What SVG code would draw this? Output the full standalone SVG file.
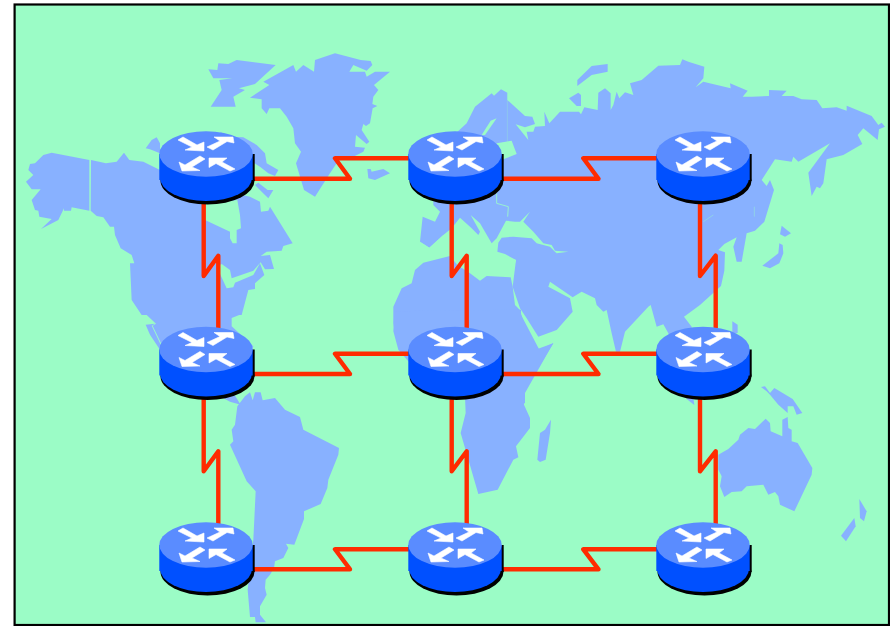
<svg xmlns="http://www.w3.org/2000/svg" xmlns:xlink="http://www.w3.org/1999/xlink" width="890" height="626" viewBox="0 0 890 626">
<style>
.land{fill:#88B1FF}
.sea{fill:#9BFCC6}
.seam{fill:none;stroke:#9BFCC6;stroke-width:2.5}
.link{fill:none;stroke:#FF2B00;stroke-width:4.4;stroke-linejoin:round;stroke-linecap:round}
.shadow{fill:#000}
.side{fill:#0050FF}
.top{fill:#5A8CFF}
.arrow{fill:#fff;stroke:#fff;stroke-width:.6}
</style>
<defs>
<g id="router">
<ellipse class="shadow" cx="1.5" cy="26.8" rx="47" ry="23.7"/>
<rect class="shadow" x="-40" y="0" width="88.7" height="27"/>
<ellipse class="side" cx="0" cy="24" rx="46" ry="23"/>
<rect class="side" x="-46.7" y="0" width="93.4" height="26"/>
<ellipse class="top" cx="0" cy="0" rx="46.7" ry="22.8"/>
<polygon class="arrow" points="-28,-14 -23,-17 -9,-9 -2,-12 -2,-3 -21,-4 -14,-7"/>
<polygon class="arrow" points="1,-7 14,-13 8,-17 27,-17 28,-11 21,-12.5 7,-4"/>
<polygon class="arrow" points="-6,2 -1,5 -14,13 -6,16.5 -24,17 -27,8 -21,11"/>
<polygon class="arrow" points="3,4 21,4 16,8 29,15 24,17 10,9.5 3,13.5"/>
</g>
</defs>
<rect x="14.6" y="4.5" width="874.4" height="620.5" class="sea" stroke="#000" stroke-width="2.2"/>
<g id="map">
<g transform="scale(0.33333)">
<polygon class="land" points="750,293 808,255 790,245 880,195 888,215 910,195 942,215 945,180 1005,160 1082,180 1112,183 1117,195 1100,212 1060,195 1048,215 1095,215 1100,230 1125,215 1170,215 1122,255 1135,270 1120,290 1117,312 1132,318 1118,325 1110,370 1098,378 1090,372 1085,390 1108,425 1100,432 1068,405 1065,440 1095,443 1090,455 1060,470 1020,475 990,520 945,590 912,570 888,490 903,455 885,430 880,385 860,350 840,325 808,325 800,342 785,325 785,298"/>
<polygon class="land" points="625,208 652,210 655,190 685,192 710,180 827,195 765,252 717,265 735,270 700,290 707,320 632,320 665,270 658,240 697,235 640,235"/>
<polygon class="land" points="1102,507 1112,507 1115,515 1150,507 1170,520 1125,540 1105,535"/>
<polygon class="land" points="78,545 100,525 85,510 90,492 105,490 130,465 155,458 268,480 268,632 215,622 213,632 192,632 192,625 175,660 123,687 155,657 118,650 115,632 105,630 95,600 122,568 95,568"/>
<polygon class="land" points="273,480 318,490 350,485 372,458 388,480 430,485 480,510 620,560 750,590 780,605 783,635 805,632 810,620 878,730 850,738 845,752 800,755 782,768 810,765 822,807 795,808 782,787 760,812 695,835 690,810 665,792 650,800 680,865 700,862 705,848 760,825 780,790 793,825 765,850 765,867 745,870 725,945 425,945 395,900 390,790 403,790 395,765 362,745 345,705 342,680 330,680 310,652 290,648 272,632"/>
<polygon class="sea" points="615,612 615,660 690,695 690,715 698,730 710,730 710,690 723,685 720,645 712,600"/>
<polygon class="land" points="437,445 455,420 470,412 480,430 480,460 450,448"/>
<polygon class="land" points="660,395 690,410 730,412 770,435 795,460 800,490 835,510 825,528 805,520 780,500 700,450"/>
<polygon class="land" points="765,555 785,575 805,595 820,570 803,570 775,548"/>
</g>
<g transform="translate(0,313) scale(0.33333)">
<polygon class="land" points="425,-8 725,-8 725,3 695,15 695,40 760,100 700,240 722,275 690,266 660,250 620,240 490,105 458,38 468,32"/>
<polygon class="land" points="437,35 465,32 455,38 487,105 480,110 450,65"/>
<polygon class="land" points="712,280 735,250 750,238 758,262 765,238 782,238 788,262 825,255 855,290 900,312 910,350 1017,405 1015,425 985,500 982,525 962,573 912,595 912,618 883,695 858,692 865,705 850,735 825,745 822,765 810,785 797,800 795,825 800,845 780,880 780,905 798,928 767,928 765,912 750,912 743,830 760,680 767,535 740,505 690,395 700,385 695,350 705,335"/>
</g>
<g transform="translate(445,0) scale(0.33333)">
<polygon class="land" points="0,430 65,370 90,320 140,280 147,287 168,268 187,278 187,300 240,348 262,350 270,372 240,382 212,373 250,420 245,395 265,395 270,380 300,378 298,335 313,370 345,335 402,335 408,343 418,322 458,330 460,278 480,265 497,280 497,330 505,315 515,275 523,295 540,277 565,285 555,250 590,240 640,197 705,195 712,178 730,185 778,200 775,235 752,262 775,245 857,265 855,250 908,272 893,290 920,290 972,288 972,270 1025,272 1010,288 1045,288 1070,298 1115,300 1132,325 1175,322 1205,332 1205,317 1280,348 1300,375 1310,368 1320,380 1302,388 1298,420 1255,385 1238,405 1252,432 1195,465 1145,478 1135,550 1125,565 1115,560 1100,588 1090,518 1155,430 1060,485 1045,470 1040,485 990,478 950,540 965,558 975,540 987,570 958,665 930,692 905,700 890,785 875,785 865,740 875,712 838,732 820,750 840,757 838,812 828,858 765,915 717,950 740,980 745,1195 748,1215 725,1197 670,1000 655,973 635,980 617,915 610,920 540,995 525,1055 513,1055 500,1000 485,930 475,935 455,915 450,895 410,875 383,892 315,845 310,860 375,895 383,935 335,990 280,1010 245,955 225,925 203,860 213,780 -5,705 -47,743 -75,725 -67,650 -30,665 -15,635 -35,615 -35,500"/>
<polygon class="land" points="397,240 440,198 488,192 488,215 440,225 397,258"/>
<polygon class="land" points="372,295 400,278 408,285 408,318 395,318"/>
<polygon class="land" points="1010,677 1038,700 1020,710 1005,703"/>
<polygon class="land" points="1003,730 1013,735 1015,760 1003,790 975,805 952,797 1000,760"/>
<polygon class="sea" points="110,405 137,362 155,355 120,405"/>
<polygon class="sea" points="155,430 200,422 215,462 175,478 140,470"/>
<polyline class="seam" stroke-opacity=".35" points="187,280 187,430"/>
<polyline class="seam" points="155,580 155,610 190,620 188,650"/>
<polyline class="seam" stroke-opacity=".5" points="775,665 805,645"/>
<polyline class="seam" stroke-opacity=".5" points="928,620 928,650"/>
</g>
<g transform="translate(380,190) scale(0.33333)">
<polygon class="sea" points="120,155 148,173 190,135 215,115 240,83 275,115 295,135 300,125 272,75 300,100 335,160 350,145 378,92 405,95 420,95 450,65 430,95 460,125 490,160 515,165 525,182 565,185 530,190 525,185 510,170 470,160 455,145 400,140 365,143 355,158 352,185 375,192 408,210 392,262 320,258 300,272 270,250 232,225 210,198 130,218 120,218"/>
<polygon class="land" points="40,350 65,295 95,280 105,240 130,218 210,198 232,225 270,250 300,272 320,258 392,262 398,290 405,345 420,360 430,395 470,478 520,460 435,600 435,640 200,600 60,470 45,430 40,400"/>
</g>
<g transform="translate(445,313) scale(0.33333)">
<polygon class="land" points="-152,-5 -155,55 -140,110 -110,145 60,250 62,300 47,360 100,543 158,530 205,440 220,433 213,400 255,345 255,315 237,275 240,240 325,90 283,110 228,5 228,-10"/>
<polygon class="land" points="318,320 315,360 302,440 285,447 277,440 285,360 300,350"/>
<polygon class="land" points="862,25 878,35 878,60 862,60"/>
<polygon class="land" points="948,222 960,220 975,240 988,225 1043,258 1072,300 1055,305 1045,280 1028,280 1028,300 1000,275 975,245 965,235"/>
<polygon class="land" points="820,425 850,408 880,380 885,365 910,345 930,348 962,317 975,330 977,355 1012,370 1012,320 1028,312 1030,345 1040,350 1040,385 1058,390 1102,465 1100,485 1048,595 1005,575 1000,550 990,537 970,545 955,515 905,520 890,535 860,537 838,552 825,520 830,490 820,470"/>
<polygon class="land" points="1243,558 1265,595 1257,625 1245,615"/>
<polygon class="land" points="1228,615 1232,640 1203,685 1188,668"/>
</g>
</g>
<g id="connectors">
<polyline class="link" points="250,178.7 350,178.7 335,158.3 412,158.3"/>
<polyline class="link" points="499,178.7 598.5,178.7 583.3,158.3 660,158.3"/>
<polyline class="link" points="250,374 350,374 335,353.7 412,353.7"/>
<polyline class="link" points="499,374 598.5,374 583.3,353.7 660,353.7"/>
<polyline class="link" points="250,569.3 350,569.3 335,549.3 412,549.3"/>
<polyline class="link" points="499,569.3 598.5,569.3 583.3,549.3 660,549.3"/>
<polyline class="link" points="203.7,200 203.7,276 218.3,255.7 218.3,330"/>
<polyline class="link" points="203.7,395 203.7,471.3 218.3,451.3 218.3,526"/>
<polyline class="link" points="451.7,200 451.7,276 466.7,255.7 466.7,330"/>
<polyline class="link" points="451.7,395 451.7,471.3 466.7,451.3 466.7,526"/>
<polyline class="link" points="700,200 700,276 715.7,255.7 715.7,330"/>
<polyline class="link" points="700,395 700,471.3 715.7,451.3 715.7,526"/>
</g>
<g id="r11"><use href="#router" xlink:href="#router" x="206" y="154"/></g>
<g id="r12"><use href="#router" xlink:href="#router" x="455" y="154"/></g>
<g id="r13"><use href="#router" xlink:href="#router" x="703" y="154"/></g>
<g id="r21"><use href="#router" xlink:href="#router" x="206" y="349.5"/></g>
<g id="r22"><use href="#router" xlink:href="#router" x="455" y="349.5"/></g>
<g id="r23"><use href="#router" xlink:href="#router" x="703" y="349.5"/></g>
<g id="r31"><use href="#router" xlink:href="#router" x="206" y="545"/></g>
<g id="r32"><use href="#router" xlink:href="#router" x="455" y="545"/></g>
<g id="r33"><use href="#router" xlink:href="#router" x="703" y="545"/></g>
</svg>
